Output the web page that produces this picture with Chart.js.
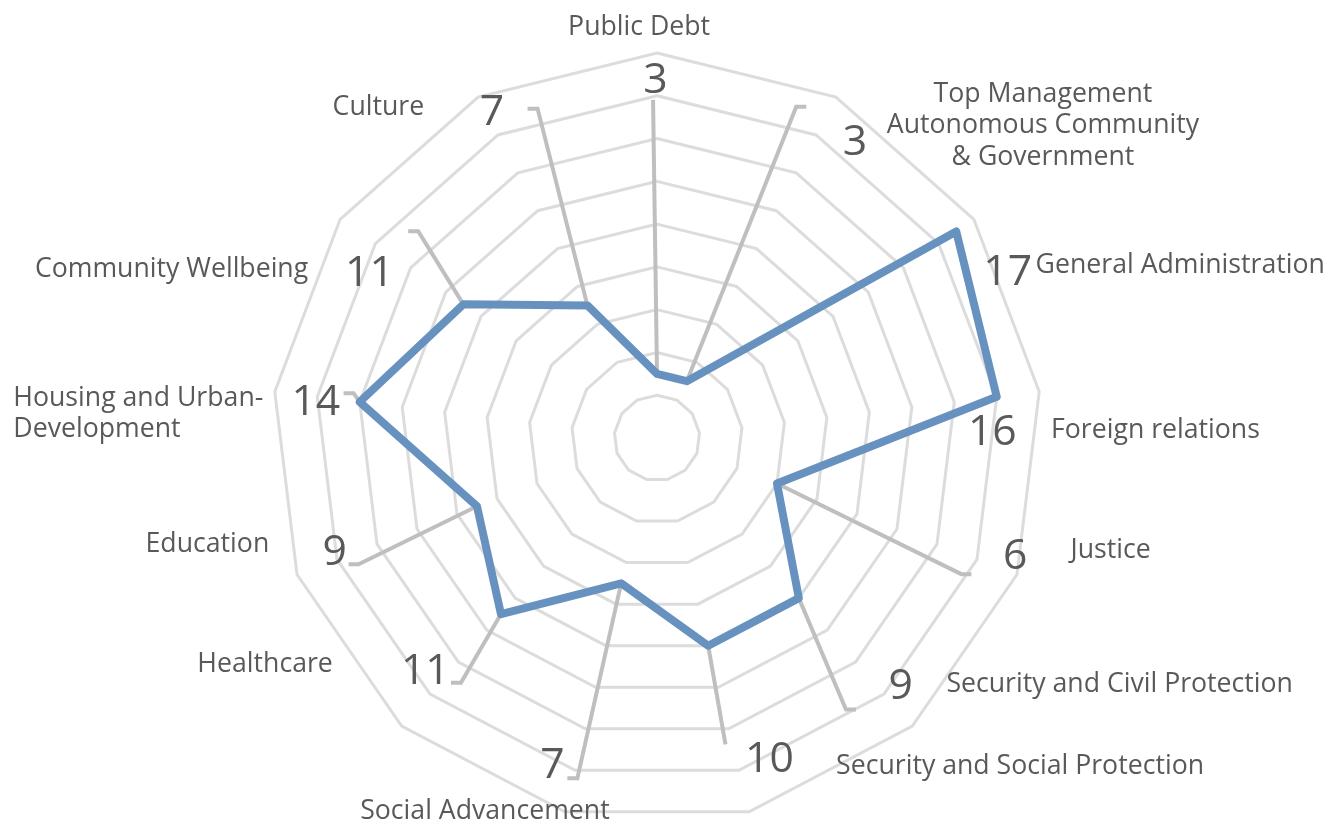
<!DOCTYPE html>
<html>
<head>
<meta charset="utf-8">
<script src="https://cdn.jsdelivr.net/npm/chart.js@4.4.1/dist/chart.umd.min.js"></script>
<style>
  html, body { margin: 0; padding: 0; background: #ffffff; overflow: hidden; }
  #wrap { position: relative; width: 1339px; height: 823px; }
</style>
</head>
<body>
<div id="wrap"><canvas id="c"></canvas></div>
<script>
// ---- data ----
const categories = [
  "Public Debt",
  ["Top Management", "Autonomous Community", "& Government"],
  "General Administration",
  "Foreign relations",
  "Justice",
  "Security and Civil Protection",
  "Security and Social Protection",
  "Social Advancement",
  "Healthcare",
  "Education",
  ["Housing and Urban-", "Development"],
  "Community Wellbeing",
  "Culture"
];
// plotted values (as drawn in the picture)
const values = [3, 3, 17, 16, 6, 10, 10, 7, 11, 9, 14, 11, 7];
// data label texts (as printed in the picture)
const valueLabels = ["3", "3", "17", "16", "6", "9", "10", "7", "11", "9", "14", "11", "7"];
const scaleMin = 0;
const scaleMax = 18;
const scaleStep = 2;

// ---- label layout (polar: [distance in value units, angle in degrees clockwise from top]) ----
const numberPos = [[16.84,-0.24],[16.74,33.56],[18.18,64.39],[15.68,88.56],[17.59,107.86],[16.18,135.23],[15.79,160.55],[15.93,197.85],[15.29,225.12],[15.94,250.93],[16.05,276.32],[15.55,300.17],[17.18,333.3]];
const leaderEnd = [[15.81,-0.67],[16.8,22.8],null,null,[15.59,114.1],[15.47,145.17],[14.68,167.4],[16.34,193.17],[14.66,218.7],[15.15,247.05],[14.34,278.4],[14.77,310.9],[16.38,340.07]];
const leaderTick = [0,1,0,0,1,1,0,-1,-1,-1,-1,-1,-1];
const categoryPos = [[19.37,-2.48],[23.30,50.75],[25.81,71.4],[23.31,88.74],[21.82,103.56],[24.45,117.78],[22.79,131.86],[19.08,204.94],[21.10,240.27],[21.57,257.04],[30.12,272.39],[24.08,289.52],[20.31,320.11]];
const categoryAlign = ["center","center","center","center","center","center","center","center","center","center","left","center","center"];

const FONT = "'Open Sans', 'Noto Sans', sans-serif";
const TEXT_COLOR = "#595959";
const LEADER_COLOR = "#bfbfbf";

function polar(scale, p) {
  const d = scale.getDistanceFromCenterForValue(p[0]);
  const a = p[1] * Math.PI / 180;
  return { x: scale.xCenter + d * Math.sin(a), y: scale.yCenter - d * Math.cos(a) };
}

const labelPlugin = {
  id: 'excelLabels',
  beforeDatasetsDraw(chart) {
    const ctx = chart.ctx;
    const scale = chart.scales.r;
    const meta = chart.getDatasetMeta(0);
    ctx.save();
    ctx.strokeStyle = LEADER_COLOR;
    ctx.lineWidth = 4;
    ctx.lineJoin = 'miter';
    ctx.lineCap = 'butt';
    for (let i = 0; i < values.length; i++) {
      if (!leaderEnd[i]) continue;
      const pt = meta.data[i];
      const e = polar(scale, leaderEnd[i]);
      ctx.beginPath();
      ctx.moveTo(pt.x, pt.y);
      ctx.lineTo(e.x, e.y);
      if (leaderTick[i] !== 0) ctx.lineTo(e.x + leaderTick[i] * 10, e.y);
      ctx.stroke();
    }
    ctx.restore();
  },
  afterDraw(chart) {
    const ctx = chart.ctx;
    const scale = chart.scales.r;
    ctx.save();
    ctx.fillStyle = TEXT_COLOR;
    // value labels
    const numSize = 42.67;
    ctx.font = numSize + "px " + FONT;
    ctx.textAlign = 'center';
    ctx.textBaseline = 'alphabetic';
    for (let i = 0; i < valueLabels.length; i++) {
      const p = polar(scale, numberPos[i]);
      ctx.fillText(valueLabels[i], p.x, p.y + numSize * 0.357);
    }
    // category labels
    const catSize = 26.67;
    const lineH = 31.5;
    ctx.font = catSize + "px " + FONT;
    ctx.textBaseline = 'middle';
    for (let i = 0; i < categories.length; i++) {
      const lines = Array.isArray(categories[i]) ? categories[i] : [categories[i]];
      const p = polar(scale, categoryPos[i]);
      const y0 = p.y + 3 - (lines.length - 1) * lineH / 2;
      ctx.textAlign = categoryAlign[i];
      lines.forEach((ln, k) => ctx.fillText(ln, p.x, y0 + k * lineH));
    }
    ctx.restore();
  }
};

new Chart(document.getElementById('c'), {
  type: 'radar',
  data: {
    labels: categories,
    datasets: [{
      data: values,
      borderColor: '#6792c0',
      borderWidth: 8,
      borderJoinStyle: 'round',
      fill: false,
      pointRadius: 0,
      pointHoverRadius: 0,
      tension: 0
    }]
  },
  options: {
    responsive: true,
    maintainAspectRatio: false,
    animation: false,
    layout: { padding: { top: 53, bottom: -4, left: 0, right: 25 } },
    plugins: { legend: { display: false }, tooltip: { enabled: false } },
    scales: {
      r: {
        min: scaleMin,
        max: scaleMax,
        ticks: { display: false, stepSize: scaleStep },
        grid: { color: '#dcdcdc', lineWidth: 3, circular: false },
        angleLines: { display: false },
        pointLabels: { display: false }
      }
    }
  },
  plugins: [labelPlugin]
});
</script>
</body>
</html>
